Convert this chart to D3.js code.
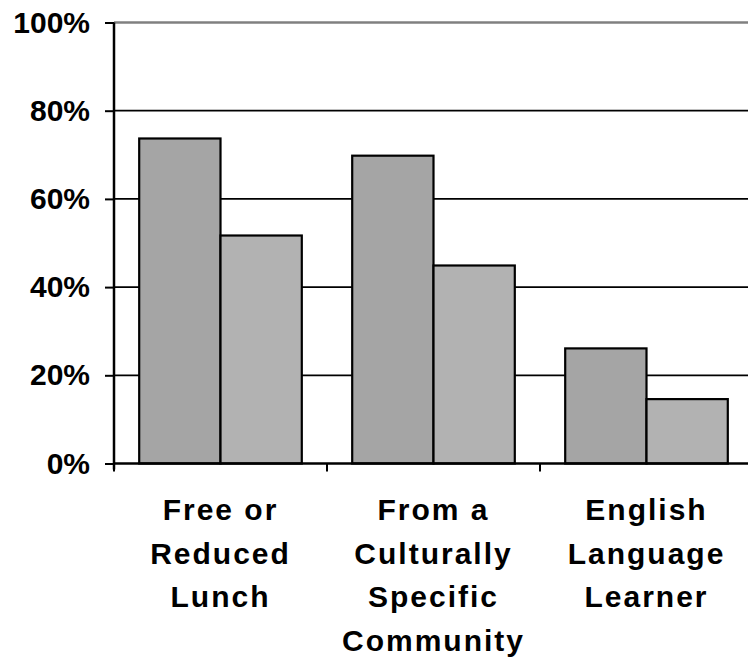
<!DOCTYPE html>
<html>
<head>
  <meta charset="utf-8">
  <script src="https://cdn.jsdelivr.net/npm/d3@7"></script>
  <style>
    body {margin:0; background:#fff;}
    text {font-family: "Liberation Sans", Arial, sans-serif; font-weight: bold; fill:#000;}
  </style>
</head>
<body>
<script>
const categories = [
  ["Free or", "Reduced", "Lunch"],
  ["From a", "Culturally", "Specific", "Community"],
  ["English", "Language", "Learner"]
];
const seriesA = [73.7, 69.8, 26.1];
const seriesB = [51.7, 44.9, 14.6];
const yTicks = [0, 20, 40, 60, 80, 100];

const width = 748, height = 658;
const plotLeft = 114, plotRight = 753, plotTop = 22.5, plotBottom = 463.5;

const svg = d3.select("body").append("svg")
  .attr("width", width).attr("height", height);

const x = d3.scaleBand().domain(d3.range(categories.length)).range([plotLeft, plotRight]).paddingInner(0).paddingOuter(0);
const inner = d3.scaleBand().domain([0, 1]).range([0, x.bandwidth()]).paddingOuter(0.31).paddingInner(0);
const y = d3.scaleLinear().domain([0, 100]).range([plotBottom, plotTop]);

// gridlines
svg.append("g").selectAll("line").data(yTicks.filter(d => d > 0)).join("line")
  .attr("x1", plotLeft).attr("x2", width)
  .attr("y1", d => y(d)).attr("y2", d => y(d))
  .attr("stroke", d => d === 100 ? "#808080" : "#000")
  .attr("stroke-width", d => d === 100 ? 2.5 : 1.7);

// bars
const groups = svg.append("g").selectAll("g").data(categories).join("g")
  .attr("transform", (d, i) => `translate(${x(i)},0)`);
groups.append("rect")
  .attr("x", inner(0)).attr("width", inner.bandwidth())
  .attr("y", (d, i) => y(seriesA[i])).attr("height", (d, i) => plotBottom - y(seriesA[i]))
  .attr("fill", "#a5a5a5").attr("stroke", "#000").attr("stroke-width", 2.2);
groups.append("rect")
  .attr("x", inner(1)).attr("width", inner.bandwidth())
  .attr("y", (d, i) => y(seriesB[i])).attr("height", (d, i) => plotBottom - y(seriesB[i]))
  .attr("fill", "#b2b2b2").attr("stroke", "#000").attr("stroke-width", 2.2);

// y axis
const yAxis = svg.append("g").attr("transform", `translate(${plotLeft},0)`)
  .call(d3.axisLeft(y).tickValues(yTicks).tickFormat(d => d + "%").tickSize(9).tickPadding(15));
yAxis.select(".domain").attr("stroke", "#000").attr("stroke-width", 2.5).attr("d", `M0,${plotTop}V${plotBottom + 6}`);
yAxis.selectAll(".tick line").attr("stroke", "#000").attr("stroke-width", 2);
yAxis.selectAll(".tick text").attr("font-size", 30).attr("font-family", "Liberation Sans, Arial, sans-serif").attr("font-weight", "bold");

// x axis line and ticks
svg.append("line").attr("x1", plotLeft).attr("x2", width).attr("y1", plotBottom).attr("y2", plotBottom)
  .attr("stroke", "#000").attr("stroke-width", 2.5);
svg.append("g").selectAll("line").data(d3.range(categories.length + 1)).join("line")
  .attr("x1", d => plotLeft + d * x.bandwidth()).attr("x2", d => plotLeft + d * x.bandwidth())
  .attr("y1", plotBottom).attr("y2", plotBottom + 8)
  .attr("stroke", "#000").attr("stroke-width", 2);

// category labels
groups.append("text")
  .attr("text-anchor", "middle")
  .attr("font-size", 30)
  .attr("letter-spacing", 2)
  .selectAll("tspan").data(d => d).join("tspan")
  .attr("x", x.bandwidth() / 2)
  .attr("y", (d, j) => 520 + j * 43.5)
  .text(d => d);
</script>
</body>
</html>
